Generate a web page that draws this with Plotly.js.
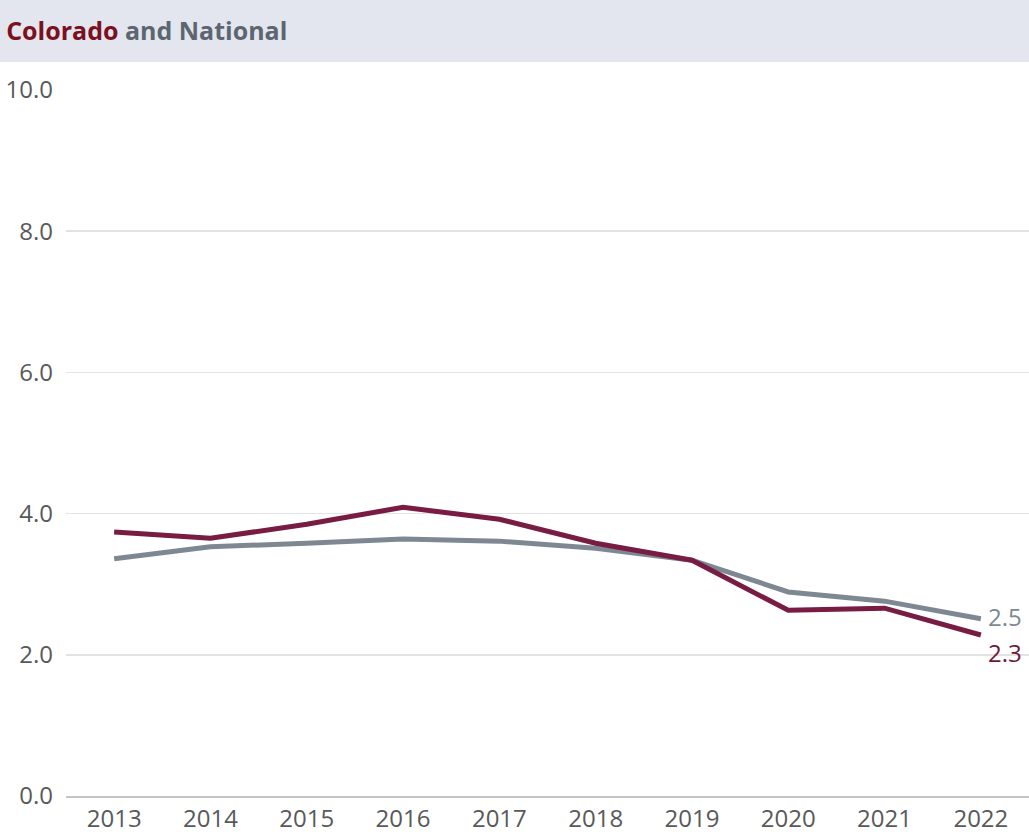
<!DOCTYPE html>
<html>
<head>
<meta charset="utf-8">
<script src="https://cdn.plot.ly/plotly-3.0.1.min.js"></script>
<style>html,body{margin:0;padding:0;background:#fff;}#chart{width:1029px;height:835px;}</style>
</head>
<body>
<div id="chart"></div>
<script>
const years = [2013, 2014, 2015, 2016, 2017, 2018, 2019, 2020, 2021, 2022];
const colorado = [3.74, 3.65, 3.85, 4.09, 3.92, 3.58, 3.34, 2.63, 2.66, 2.28];
const national = [3.36, 3.53, 3.58, 3.64, 3.61, 3.51, 3.34, 2.89, 2.76, 2.51];
const yTicks = [0, 2, 4, 6, 8, 10];
const yTickLabels = ["0.0", "2.0", "4.0", "6.0", "8.0", "10.0"];

const W = 1029, H = 835;
const M = {l: 66, r: 0, t: 90, b: 39};
const plotW = W - M.l - M.r, plotH = H - M.t - M.b;
const headerH = 62;

const FONT = "Open Sans, Noto Sans, sans-serif";
const maroon = "#781c44";
const gray = "#7e8893";

const traces = [
  {x: years, y: national, type: "scatter", mode: "lines", name: "National",
   line: {color: gray, width: 5}, hoverinfo: "x+y"},
  {x: years, y: colorado, type: "scatter", mode: "lines", name: "Colorado",
   line: {color: maroon, width: 5}, hoverinfo: "x+y"}
];

const last = years.length - 1;
const layout = {
  width: W, height: H,
  margin: M,
  paper_bgcolor: "#ffffff",
  plot_bgcolor: "#ffffff",
  showlegend: false,
  font: {family: FONT, color: "#595959", size: 24},
  title: {
    text: '<b><span style="color:#7a1020">Colorado</span> and National</b>',
    font: {family: FONT, size: 25, color: "#5d6670"},
    x: 0.006, xanchor: "left", xref: "container",
    y: 1 - 31 / H, yanchor: "middle", yref: "container"
  },
  xaxis: {
    range: [2012.5, 2022.5],
    tickvals: years,
    ticktext: years.map(String),
    showgrid: false,
    zeroline: false,
    showline: true,
    linecolor: "#c4c4c4",
    linewidth: 2,
    ticks: "",
    tickfont: {family: FONT, size: 24, color: "#595959"},
    fixedrange: true
  },
  yaxis: {
    range: [0, 10],
    tickvals: yTicks,
    ticktext: yTickLabels,
    showgrid: true,
    gridcolor: "#e3e3e3",
    gridwidth: 1.5,
    zeroline: false,
    showline: false,
    ticks: "",
    ticklabelstandoff: 12,
    tickfont: {family: FONT, size: 24, color: "#595959"},
    fixedrange: true
  },
  shapes: [{
    type: "rect", xref: "paper", yref: "paper", layer: "below",
    x0: -M.l / plotW, x1: 1 + M.r / plotW,
    y0: 1 + (M.t - headerH) / plotH, y1: 1 + M.t / plotH,
    fillcolor: "#e3e6ee", line: {width: 0}
  }],
  annotations: [
    {x: years[last], y: national[last], xref: "x", yref: "y",
     text: national[last].toFixed(1), showarrow: false,
     xanchor: "left", yanchor: "middle", xshift: 5, yshift: 2,
     font: {family: FONT, size: 24, color: gray}},
    {x: years[last], y: colorado[last], xref: "x", yref: "y",
     text: colorado[last].toFixed(1), showarrow: false,
     xanchor: "left", yanchor: "middle", xshift: 5, yshift: -17,
     font: {family: FONT, size: 24, color: "#6a1a3c"}}
  ]
};

Plotly.newPlot("chart", traces, layout, {displayModeBar: false, staticPlot: true});
</script>
</body>
</html>
